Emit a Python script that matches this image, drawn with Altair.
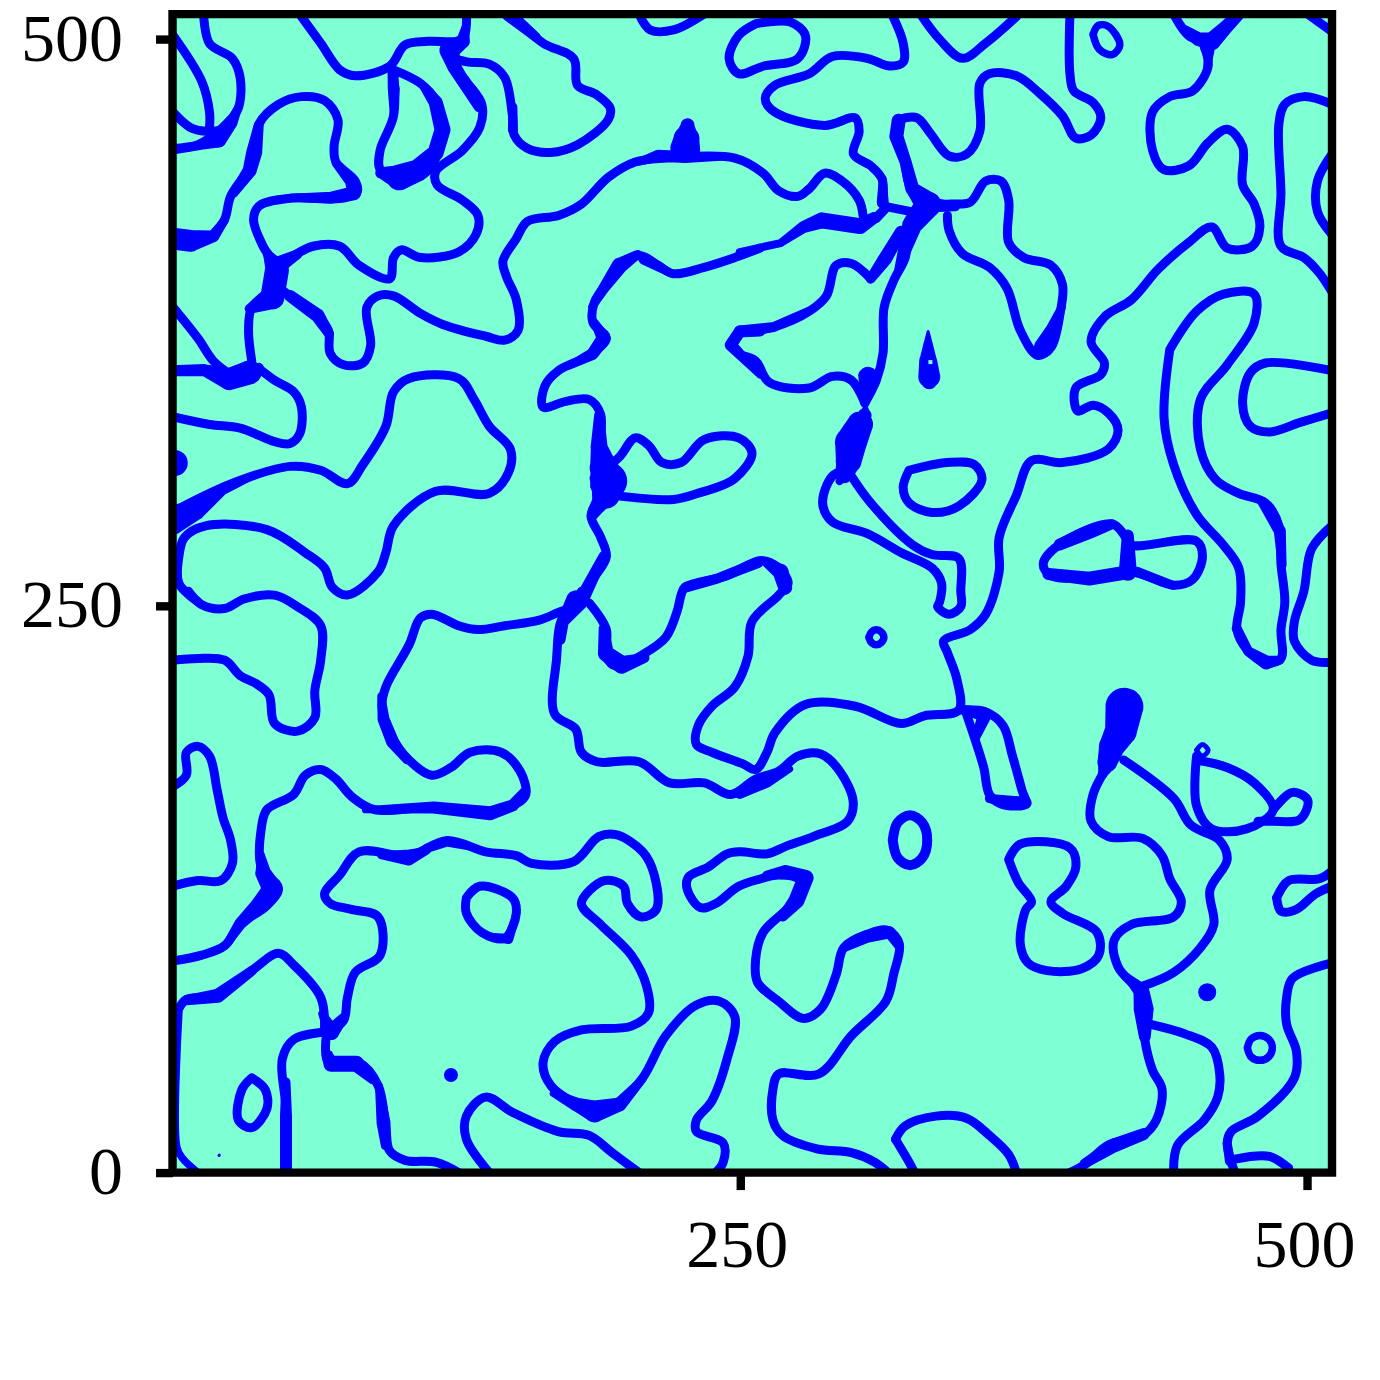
import altair as alt
import pandas as pd

# Contours, in data units (x, y)
a01 = [(13.7,511),(16.3,498),(26.4,491.4),(29.8,483),(29,469.5),(23.9,462.7),(18,457.6),(11.2,453.4),(0,451.7)]
a02 = [(0,502),(12.9,481.3),(16.3,467.8),(16.3,461)]
a03 = [(0,468),(7.8,461),(14.6,459.3),(23,460)]
a04 = [(56,511),(65.3,498.2),(73.7,486.4),(80.5,483.8),(95.7,488),(102.5,497.4),(112.6,499),(127.8,500),(129.5,511)]
a05 = [(127.8,500),(122.7,491.4),(129.5,481.3),(136.3,471.2),(135.4,461),(127.8,450.9),(116,441.6),(116.6,435.7),(127.8,428.9),(134.6,422.2),(133.7,413.7),(126.1,406.1),(109.2,403.6),(100.8,407),(97.4,403.6),(95.7,394.3),(82.2,400.2),(73.7,408.6),(61.9,408.6),(51.8,403.6),(45,400.2)]
a06 = [(97.4,486.4),(97.4,466.1),(91.5,451),(91.5,442.4),(99.1,437.4),(106.7,438.2),(114.3,444.1),(118.5,459.3),(116,472.9),(109.2,480.5),(97.4,486.4)]
a08 = [(125,491),(130.3,489.8),(139.6,488.9),(146.4,483),(149.8,466.1),(150.6,457.6),(156.5,451.7),(166.7,450),(178.5,453.4),(192,464.4),(192.9,469.5),(187,475.4),(178.5,479.6),(176.8,491.4),(163.3,498.2),(148.9,511)]
a09 = [(18,413.7),(23,420.5),(25.6,430.6),(33.2,442.4),(36.6,452.6),(38.2,462.7),(46.7,471.2),(56.8,474.6),(67,472.9),(72.9,464.4),(71.2,452.6),(72,445.8),(80.5,437.4),(81.3,432.3),(75.4,429.8),(51.8,429.8),(38.2,426.4),(35.7,420.5),(39.9,408.6),(45,400.2),(45,391.7),(34.9,381.6),(33.5,371.5),(34.9,358)]
a12 = [(0,353.7),(16.3,353.7),(25.6,349.5),(34.9,353.7),(38.2,354.6)]
a13 = [(0,382),(11.2,368),(18,358),(25.6,352)]
a14 = [(38.2,354.6),(45,349.5),(53.4,344.4),(56.8,337.7),(56,325.8),(51.8,321.6),(45,322.4),(29.8,328.4),(16.3,330),(0,333.4)]
a15 = [(45,391.7),(51.8,386.7),(63.6,378.2),(68.7,371.5),(69.5,361.3),(75.4,356.3),(83.9,357.1),(87.3,364.7),(85.6,381.6),(90.6,386.7),(97.4,386.7),(109.2,379),(119.4,374),(138,368.9),(146.4,367.2),(152.3,371.5),(151.5,385),(147.2,395.1),(145.6,401.9),(151.5,412),(156.5,419.6),(170.1,422.2),(180.2,427.2),(192,439),(203.9,445.8),(217.4,447.5),(247.8,447.5),(260.3,440.8),(267.1,433.1),(275.6,430.6),(280.6,434),(287.4,440.8),(295,437.4),(302.6,428.9),(304.3,422.2)]
a18 = [(259,407.8),(247.8,403.6),(234.3,399.3),(220.8,396.5),(214,400.2),(206.4,404.4),(198.8,401.9),(193.7,395.1),(186,384.1),(185.3,374.8),(191.2,368.1),(183.6,360.5),(170,353.7),(164.1,347),(163.3,337.7),(173.4,340.2),(183.6,341),(188.7,334.3),(187.8,317.4),(187,297.1),(184.4,289.5),(188.7,280.2),(191.2,271.7),(185.3,261.6),(180.2,251.8)]
a21 = [(190,310),(197,315.7),(203.9,324.1),(209.8,320.8),(215.7,313.2),(224.1,313.2),(234.3,323.3),(249.5,324.1),(255.4,317.4),(247.8,306.2),(230.9,299.4),(220.8,296.9),(195.4,298.6)]
a22 = [(4.4,293.7),(28.1,304.7),(51.8,311.5),(65.3,309.8),(77.1,303.9),(83.9,312.3),(94,329.2),(97.4,344.4),(104.2,350.3),(126.1,350.3),(132.9,341),(139.6,329.2),(148.9,319.1),(148.1,308.9),(139.6,299.6),(116,300.5),(97.4,285.3),(94,273.4),(90.6,265),(77.1,254.8),(70.4,258.2),(67,266.7),(58.5,273.4),(41.6,283.6),(14.6,285.3),(5.3,280.2),(2.8,271.7),(2.8,260),(11.2,251.8)]
a26 = [(205.6,511),(210.6,504),(220.8,504),(234.3,511)]
a27 = [(257,506.7),(272.2,507.5),(278.9,501.6),(275.6,491.4),(260.3,488),(249.5,484.7),(245.3,491.4),(249.5,501.6),(257,506.7)]
a28 = [(7,256.4),(12.9,250.5),(23,248.8),(31.5,253),(45,254.7),(55.1,249.6),(65.3,241.2),(65.3,226),(62.7,212.5),(62.7,200.6),(55.1,194.7),(45,198.1),(42.5,210.8),(36.6,215.8),(29.8,219.2),(23,226),(11.2,226.8),(0,226)]
a29 = [(180.2,256.4),(178.5,250.5),(170.1,247.1),(161.6,243.7),(146.4,241.2),(134.6,239.5),(126.1,241.2),(114.3,246.3),(109.2,244.6),(104.2,232.7),(94,214.2),(92.3,205.7),(95.7,193.9),(104.2,182),(114.3,175.3),(122.7,178.7),(131.2,185.4),(144.7,185.4),(153.2,177),(155.7,166.8),(151.5,162.6),(138,159.2),(112.6,160.9),(89,160.1),(78.8,166),(72,173.6),(65.3,177.8),(58.5,175.3),(53.4,166.8),(41.6,160.1),(39.1,151.6),(39.1,134.7),(46.7,125.4),(41.6,117.8),(29.8,109.4),(23,100.1),(12.9,95.9),(0,93.3)]
a31 = [(178.5,250.5),(171.8,244.6),(169.2,226),(168.4,202.3),(177.7,195.6),(180.2,185.4),(187,181.2),(205.6,181.2),(219.1,171.9),(234.3,171.9),(246.1,166.8),(257,173.6),(267.1,177),(275.6,183.7),(285.7,184.6),(294.1,177),(300,163.4),(297.5,155),(282.3,148.2),(270.5,144),(262,140.6),(250.2,141.5),(244.4,140.6),(236,134.7),(227.5,130.5),(226.7,125.4),(232.6,116.9),(239.4,118.7),(249.5,126.3),(259.3,129.6),(267.1,131.3),(278,128.8),(272.2,117.8),(260.3,106),(257,94.2),(257.8,84),(267.1,75.6),(278.1,68),(285.7,72.2),(292.5,87.4),(295.8,99.2),(306,105.1),(315.3,106.8),(320.3,100.9),(317.8,87.4),(314.4,75.6),(299.2,60.4),(284.8,43.5),(267.1,43.5),(264.6,36.7),(264.6,23.2),(268.8,16.4),(284,10.5),(299.2,8.8),(309.4,4.6),(315.3,0)]
a32 = [(183.6,251.3),(191.2,239.5),(191.2,227.7),(195.4,223.4),(207.2,228.5),(217.4,236.1),(222.5,248),(224.1,254.7),(225.8,258.2),(244.4,263.3),(259.3,270),(267.1,266.7),(271.3,260),(267.1,254.7),(255.3,242.9),(253.6,227.7),(247.8,214.2),(237.7,205.7),(231.7,197.2),(230.9,188.8),(237.7,185.4),(251.2,180.4),(257,177.8),(262,185.4),(265.4,193.9),(278.9,206.5),(300.9,205.7),(321.2,198.1),(331.3,201.5),(346.5,204),(345.7,217.5),(341.5,229.4),(339.8,234.4),(351.6,239.5),(358.4,246.3),(364.3,265),(364.3,280.2),(371.9,298.8),(378.6,314),(392.2,313.2),(412.4,319.1),(416.7,327.5),(412.4,335.1),(405.7,338.5),(398.9,336),(398.1,346.1),(409.1,352),(410.7,357.1),(404.8,366.4),(410.7,377.4),(422.6,385),(434.4,398.5),(447.9,410.3),(458,417.1),(464.8,407.8),(475.8,408.6),(479.2,417.1),(476.7,427.2),(471.6,435.7),(471.6,452.6),(464.8,460.2),(456.4,454.3),(447.9,444.1),(436.9,442.4),(431.9,450.9),(431.9,467.8),(439.5,474.6),(449.6,477.1),(456.4,488),(454.7,496.5)]
a34 = [(441.2,511),(448.9,500.7),(458,499.9),(468.2,511)]
a35 = [(317,511),(322,498.2),(322,489.8),(316.1,488.1),(306,491.5),(290.8,492.3),(280.6,484.7),(265.4,479.6),(261.2,473.7),(265.4,467.8),(287.4,461.9),(300.9,465.2),(302.6,459.3),(300.1,449.2),(307.7,444.1),(312.7,438.2),(312.7,427.2)]
a39 = [(322.9,445.8),(325.4,434),(333,427.2),(324.6,415.4),(322.9,403.6),(317.8,393.4),(313.6,381.6),(313.1,361.3),(310.2,349.5),(305.1,339.4)]
a42 = [(319.5,464.4),(328,465.3),(333.9,458.5),(342.3,448.4),(349.9,449.2),(355.8,459.3),(355.8,480.5),(360,484.7),(371.9,483.8),(382,476.2),(392.2,466.1),(398.1,456.3),(404.8,457.6),(409.1,465.3),(405.7,472),(397.2,477.1),(395.5,484.7),(395.5,511)]
a43 = [(329.6,511),(338,499.9),(348.2,491.5),(358.4,498.2),(372,510)]
a44 = [(405.7,502),(408,506),(412.5,505.5),(417.5,497.4),(414.1,493.1),(408.4,495.5),(405.7,502)]
a45 = [(333,427.2),(343.2,427.2),(351.6,428.1),(358.4,437.4),(365.1,437.4),(368.5,428.9),(368.5,410.3),(375.2,403.6),(387.1,400.2),(392.2,391.7),(391.3,379.9),(387.1,363.9),(381.2,360.5),(373.6,371.5),(367.7,390.1),(360,399.3),(348.2,405.3),(342.3,415.4),(341.5,422.2)]
a47 = [(250.2,370.6),(265.4,373.1),(280.6,379.9),(288.2,386.7),(292.5,400.2),(299.2,401),(307.7,394.3)]
a49 = [(250.2,360.5),(257,358),(262.9,348.6),(280.6,346.1),(290.8,351.2),(299.2,349.5),(305.1,339.4)]
a55 = [(296.7,310),(290.8,307.2),(286.5,295.4),(290.8,287),(306,281.9),(321.2,273.4),(334.7,266.7),(338.9,260),(338.1,251.8),(337.2,249.6),(342.3,246.3),(347.4,249.6),(347.4,256.4),(346.5,270.9),(334.7,272.6),(326.3,276.8),(307.7,295.4),(299.2,307.2)]
a56 = [(324.6,309.8),(341.5,313.2),(353.3,312.3),(356.7,305.6),(346.5,294),(334.7,291.2),(324.6,295.4),(322,302.2),(324.6,309.8)]
a57 = [(439.5,363),(437,332.6),(441.2,312.3),(451.3,290.3),(463.1,276.8),(469.9,266.7),(470.7,251.8),(469.1,239.5),(473.3,231),(481.7,225.1),(488.5,226.8),(488.5,239.5),(490.2,251.8),(488.5,268.4),(487.6,285.3),(481.7,295.4),(469.9,299.6),(459.8,305.6),(453,319.1),(453,341),(464.8,356.3),(476.7,374.8),(476.7,387.5),(463.1,387.5),(451.3,379.9),(439.5,363)]
a58 = [(511,353.7),(481.7,357.1),(475,352.8),(471.6,339.3),(475,329.2),(483.4,326.7),(497,330.9),(511,335.1)]
a59 = [(511,471.2),(498.6,474.6),(490.2,471.2),(487.6,462.7),(488.5,432.3),(488.5,408.6),(498.6,403.6),(505.4,396.8),(511,388.4)]
a60 = [(511,449.2),(504.6,437.4),(504.6,423.8),(511,413.7)]
a61 = [(511,285.3),(502,275.1),(498.6,256.4),(494.4,242.9),(494.4,234.4),(502,226),(511,225.1)]
a62 = [(420,280.2),(422.6,276.8),(451.3,278.5),(453.9,271.7),(449.6,261.6),(441.2,259.1),(422.6,265),(404,262.5),(387.1,263.3),(383.7,268.4),(390.5,276.8),(414.1,286.1),(420,280.2)]
a66 = [(306.9,236.1),(308,238.4),(310.2,239.4),(312.4,238.4),(313.5,236.1),(312.4,233.8),(310.2,232.8),(308,233.8),(306.9,236.1)]
a67 = [(346.5,204),(358.4,203.2),(366,197.2),(370.2,183.7),(374.4,168.5),(376.1,162.6),(365.1,162.6),(360,166.8),(357.5,178.7),(353.3,192.2),(349.9,202.3)]
a70 = [(410.7,177),(405.7,166.8),(404.8,155),(412.4,148.2),(427.6,147.4),(436.1,139.8),(439.5,129.6),(444.6,119.5),(441.2,112.8),(422.6,109.4),(415,102.6),(416.7,90.8),(427.6,77.3),(428.5,58.7),(431.9,45.1),(436.1,36.7),(433.6,23.2),(427.6,16.4),(412.4,12.2),(402.3,3.7),(395.5,0)]
a72 = [(419.2,182),(441.2,165.1),(448.8,153.3),(461.5,146.5),(464.8,138.1),(457.2,124.6),(458.9,109.4),(453,99.2),(441.2,88.3),(427.6,82.3)]
a74 = [(431,65.4),(446.2,61.2),(458,55.3),(461.5,43.5),(460.6,33.3),(454.7,23.2),(442.9,12),(441.2,0)]
a75 = [(451.3,183.7),(451.3,161.8),(458,151.6),(473.3,151.6),(485.1,160.1),(476.7,171.9),(464.8,178.7),(451.3,182)]
a76 = [(451.3,186.3),(453.9,188.8),(456.4,186.3),(453.9,183.7),(451.3,186.3)]
a77 = [(485.1,160.1),(493.6,167.7),(500.3,164.3),(496.9,155.8),(485.1,155),(478.4,155)]
a78 = [(317.4,146.6),(319.6,154.4),(325,157.6),(330.4,154.4),(332.6,146.6),(330.4,138.8),(325,135.6),(319.6,138.8),(317.4,146.6)]
a79 = [(368.5,138.1),(373.6,144.9),(395.5,143.2),(398.1,134.7),(393.9,126.3),(387.1,119.5),(392.2,114.4),(407.4,106),(408.2,95.9),(400.6,89.9),(385.4,89.1),(377,92.5),(373.6,101),(376.1,116.1),(378.6,119.5),(372.7,128),(368.5,138.1)]
a80 = [(456,79.5),(456,79.6)]
a81 = [(473.7,55),(475.3,58.9),(479.2,60.5),(483.1,58.9),(484.7,55),(483.1,51.1),(479.2,49.5),(475.3,51.1),(473.7,55)]
a82 = [(511,92.5),(493.6,85.7),(491,77.3),(491,65.4),(495.3,53.6),(494.4,41.8),(478.4,24.9),(466.5,18.1),(464.8,13),(468.2,0)]
a83 = [(468.2,5.9),(483.4,7.1),(491.9,2)]
a84 = [(486.6,121.2),(491.9,128.8),(505.4,129.6),(511,133)]
a85 = [(486.6,121.2),(488.5,115.3),(495.3,116.1),(503.7,122.9),(511,126.3)]
a86 = [(510.5,162.6),(510.5,125)]
a87 = [(510.5,40),(510.5,20.6)]
a88 = [(318.6,14.7),(322.9,20.6),(336.4,24.9),(349.9,24),(360,16.4),(368.5,8),(371.9,0)]
a89 = [(318.6,14.7),(324.6,4.6),(327,0)]
a90 = [(0,170.2),(6.1,175.3),(6.1,185.4),(11.2,188),(16.3,183.7),(19.7,168.5),(22.2,156.7),(25.6,146.5),(26.4,136.4),(21.3,128.8),(11.2,128.8),(0,126.3)]
a91 = [(68.7,62),(75.4,67.1),(77.1,77.3),(80.5,88.3),(91.5,95.9),(90.6,112.8),(78.8,116.1),(69.5,118.7),(67,122.9),(73.7,131.3),(82.2,141.5),(104.2,139.8),(121,146.5),(138,141.5),(151.5,139.8),(158.2,136.4),(176.8,137.2),(187.8,148.2),(195.4,149.1),(207.2,141.5),(212.3,131.3),(213.2,116.1),(206.4,112.8),(200.5,118.7),(198.8,126.3),(190.3,128.8),(180.2,118.7),(188.7,109.4),(202.2,95.9),(208.9,82.3),(209.8,70.5),(202.2,64.6),(180.2,62.9),(168.4,57.8),(163.3,48.5),(166.7,38.4),(178.5,30),(185.3,27.4),(197.1,31.6),(207.2,41.8),(217.4,60.4),(230.9,73.9),(241,75.6),(247.8,68.8),(244.4,50.2),(237.7,31.6),(230.9,23.2),(230.9,18.1),(242.7,13),(242.7,4.6),(239.4,0)]
a92 = [(1.9,70.5),(6.1,76.4),(19.7,78.1),(34.9,89.1),(46.7,96.7),(53.4,91.6),(65.3,77.3),(67,63.7)]
a93 = [(2.8,70.5),(1.9,11.3),(4.4,6.3),(11.2,0)]
a94 = [(67,62),(53.4,58.7),(48.4,50.2),(50,28.2),(50,0)]
a95 = [(67.8,60.4),(68.7,48.5),(82.2,48.5),(90.6,38.4),(94,19.8),(95.7,9.6),(102.5,5.4),(116,4.6),(126.1,0)]
a97 = [(34.9,41.8),(40.8,36.7),(41.6,28.2),(34.9,19.8),(29,23.2),(30.6,36.7),(34.9,41.8)]
a98 = [(122.7,43),(122.7,43.1)]
a99 = [(20.5,7.6),(20.6,7.7)]
b01 = [(129.5,121.2),(135.4,126.3),(149.8,121.2),(151.5,114.4),(146.4,103.4),(136.3,105.9),(129.5,114.4),(129.5,121.2)]
b02 = [(139.6,0),(129.5,14.7),(129.5,24.9),(138,33.3),(149.8,26.6),(170,18.1),(183.6,16.4),(193.7,8.8),(205.6,0)]
b03 = [(500.3,511),(511,503.3)]

line_groups = [
    (9, [a01,a02,a03,a04,a05,a06,a08,a09,a12,a13,a14,a15,a18,a21,a22,a26,a27,a28,a29,a31,a32,a34,a35,a39,a42,a43,a45,a47,a49,a55,a56,a57,a58,a59,a60,a61,a62,a67,a70,a72,a74,a75,a77,a79,a82,a83,a84,a85,a88,a89,a90,a91,a92,a94,a95,a97,b01,b02,b03]),
    (10, [a78]),
    (7.5, [a44,a66,a81,a93]),
    (5, [a76,a86,a87]),
    (3, [a99]),
    (14, [a98]),
    (18, [a80]),
]

# Thickened stretches of the contours: (x, y, width of the stroke)
t01 = [(0,412,22),(8,411,22),(18,413,12),(23,420,8)]
t02 = [(0,451,9),(12,453,9),(20,456,18),(26,463,12),(29,470,8)]
t03 = [(38,462,10),(36,450,16),(34,442,14),(27,432,9)]
t04 = [(72,445,8),(78,437,9),(80,432,14),(70,430,12),(52,430,8)]
t05 = [(42,405,10),(46,398,24),(44,386,24),(34,381,10)]
t06 = [(51.8,386.7,12),(64,378,14),(69,370,10)]
t07 = [(46,400,18),(55,405,10)]
t08 = [(0,353.7,11),(14,354,12),(25,350,22),(34,353,24),(38,355,10)]
t09 = [(110,480,8),(116,472,14),(119,460,16),(116,450,16),(108,442,22),(100,439,26),(92,441,12)]
t10 = [(96.5,487,8),(97.5,478,12),(97.5,467,8)]
t11 = [(129,505,8),(128,499,14),(122,495,20),(124,488,14),(135,470,10)]
t12 = [(148,511,14),(160,501,10)]
t13 = [(150,470,9),(150,460,10)]
t14 = [(227,462,14),(226.5,456,26),(226,452,30)]
t15 = [(206,446,8),(214,448.5,12),(226,448,12),(240,448,8)]
t16 = [(188,334,10),(188,320,17),(190,311,28),(192,305,38),(191,299,28),(188,294,14),(186,290,8)]
t17 = [(186,375,8),(190,368,14),(185,361,12),(175,356,8)]
t18 = [(205,405,9),(197,400,16),(190,390,11),(185,382,8)]
t19 = [(208,403,12),(220,396.5,8)]
t20 = [(190,272,10),(181,254,14)]
t21 = [(178,252,22),(172,243,12),(171,235,10)]
t22 = [(190,240,10),(191,229,16),(198,224,18),(208,227,10)]
t23 = [(39,140,8),(40,132,16),(44,125,20),(38,118,16),(30,110,12),(24,101,8)]
t24 = [(6,76,10),(20,78,14),(35,89,10)]
t25 = [(66,70,8),(70,62,16),(75,68,10)]
t26 = [(69,52,8),(70,48,16),(81,48,16),(88,41,9)]
t27 = [(91,38,8),(93,22,14),(94,12,10)]
t28 = [(50,40,9),(50,25,12),(50,0,12)]
t29 = [(168,35,8),(178,30,14),(186,27,22),(197,30,14),(207,41,8)]
t30 = [(92,140,8),(104,139,16),(112,142,8)]
t31 = [(85,160,7),(115,161,12),(140,158.5,14),(150,162,12),(155,168,9)]
t32 = [(92,210,8),(93,200,12),(97,190,13),(103,182,8)]
t33 = [(140,104,8),(148,103,10),(151,112,8)]
t34 = [(419.5,205.5,38),(418,195,32),(414,188,26),(412,181,20),(410,176,10)]
t35 = [(421,86,8),(427,80,16),(428,72,20),(428.5,60,12)]
t36 = [(349,204,10),(358,202,14),(354,192,9)]
t37 = [(360,165,9),(372,163,14),(376,163,12)]
t38 = [(386,264,12),(404,262,14),(422,265,14)]
t39 = [(391,277,12),(405,283,14),(414,286,10)]
t40 = [(421,281,12),(421,265,18)]
t41 = [(425,265,10),(441,259,9)]
t42 = [(428,17,12),(415,12,14),(402,4,10)]
t43 = [(296,99,8),(306,104,12),(316,106,12),(320,100,9)]
t44 = [(262,131,10),(270,133,12),(279,130,16),(275,120,16),(269,113,10)]
t45 = [(250,167,10),(262,172,10),(272,178,7)]
t46 = [(480,296,9),(488,283,12),(489,268,9)]
t47 = [(469,240,10),(474,230,10),(482,225,14),(488,226,9)]
t48 = [(466,5,10),(464.8,13,9)]
t49 = [(392,382,8),(388,372,14),(384,364,20),(382,361,10)]
t50 = [(446,504,10),(452,500,14),(458,499,18),(464,505,14),(470,511,12)]
t51 = [(457,495,10),(456,488,8)]
t52 = [(250,406,8),(268,410,8),(278,417,12),(286,420,16),(303,417.5,16),(309,421,12)]
t53 = [(320,464,14),(319,457,14),(323,446,12),(326,434,14),(333,427,26),(326,418,20),(323,408,14),(320,398,9)]
t54 = [(333,427,16),(345,426,9)]
t55 = [(313,438,8),(313,428,12)]
t56 = [(307.7,394.3,10),(314,403,14),(321,415,12)]
t57 = [(259,371,10),(250,371,12),(246,365,12),(252,359,10),(259,352,8)]
t58 = [(250,371,12),(265,373,10),(280,380,8)]
t59 = [(305.5,338,4),(305,334,14),(303,330,26),(299,322,32),(298,314,26),(296,308,18),(294,305,8)]
t60 = [(305,339,3),(305.5,345,12),(306.5,351,20)]
t61 = [(333,371,3),(333,365,10),(333,358,18),(333.5,351,22),(333.5,349,16)]
t62 = [(0,313,26),(1,313,26)]
t63 = [(0,288,30),(10,292,20),(22,301,10),(35,307,7)]
t64 = [(262,269,10),(268,265,16),(270,258,14)]
t65 = [(226,258,10),(240,262,10),(258,269,11)]
t66 = [(310,421,10),(315,426,9),(325,424,9)]
t68 = [(112,143,9),(121,146,10),(130,144,8)]

trails = [t01,t02,t03,t04,t05,t06,t07,t08,t09,t10,t11,t12,t13,t14,t15,t16,t17,t18,t19,t20,
          t21,t22,t23,t24,t25,t26,t27,t28,t29,t30,t31,t32,t33,t34,t35,t36,t37,t38,t39,t40,
          t41,t42,t43,t44,t45,t46,t47,t48,t49,t50,t51,t52,t53,t54,t55,t56,t57,t58,t59,t60,
          t61,t62,t63,t64,t65,t66,t68]

# Tiny hole in the small drop
hole_x = [334]
hole_y = [357.5]

rows = []
lid = 0
for w, group in line_groups:
    for pts in group:
        lid += 1
        for k, (x, y) in enumerate(pts):
            rows.append({"x": x, "y": y, "id": lid, "k": k, "w": w})
df = pd.DataFrame(rows)

rows2 = []
for i, pts in enumerate(trails):
    for k, (x, y, w) in enumerate(pts):
        rows2.append({"x": x, "y": y, "id": i, "k": k, "w": w})
df2 = pd.DataFrame(rows2)

AXIS_MAX = 511
tick_x = [250, 500]
tick_y = [0, 250, 500]
FONT = "Liberation Serif"

x_axis = alt.Axis(values=tick_x, title=None, grid=False, domain=False, tickSize=17, tickWidth=8.4,
                  tickColor="black", labelFont=FONT, labelFontSize=68, labelColor="black",
                  labelPadding=23, labelOffset=-3, format="d")
y_axis = alt.Axis(values=tick_y, title=None, grid=False, domain=False, tickSize=17, tickWidth=8.4,
                  tickColor="black", labelFont=FONT, labelFontSize=68, labelColor="black",
                  labelPadding=33, labelOffset=1, format="d")
xs = alt.Scale(domain=[0, AXIS_MAX], nice=False, zero=False)
ys = alt.Scale(domain=[0, AXIS_MAX], nice=False, zero=False)

lines = alt.Chart(df).mark_line(clip=True, color="#0000ff", interpolate="catmull-rom",
                                strokeCap="round", strokeJoin="round").encode(
    x=alt.X("x:Q", scale=xs, axis=x_axis),
    y=alt.Y("y:Q", scale=ys, axis=y_axis),
    detail="id:N",
    order="k:Q",
    strokeWidth=alt.StrokeWidth("w:Q", scale=None),
)

thick = alt.Chart(df2).mark_trail(clip=True, color="#0000ff").encode(
    x=alt.X("x:Q", scale=xs, axis=x_axis),
    y=alt.Y("y:Q", scale=ys, axis=y_axis),
    detail="id:N",
    order="k:Q",
    size=alt.Size("w:Q", scale=None),
)

hole = alt.Chart(pd.DataFrame({"x": hole_x, "y": hole_y})).mark_square(
    size=16, color="#7FFFD4", opacity=1
).encode(
    x=alt.X("x:Q", scale=xs, axis=x_axis),
    y=alt.Y("y:Q", scale=ys, axis=y_axis),
)

frame = alt.Chart(pd.DataFrame({"a": [0], "b": [AXIS_MAX]})).mark_rect(
    fillOpacity=0, stroke="black", strokeWidth=8.4
).encode(
    x=alt.X("a:Q", scale=xs, axis=x_axis),
    x2="b:Q",
    y=alt.Y("a:Q", scale=ys, axis=y_axis),
    y2="b:Q",
)

chart = (lines + thick + hole + frame).properties(
    width=1160, height=1159,
    padding={"left": 164.6, "top": 5.8, "right": 40, "bottom": 190},
    autosize=alt.AutoSizeParams(type="none"),
).configure_view(fill="#7FFFD4", strokeWidth=0)

chart.save("out.html", embed_options={"renderer": "svg", "actions": False})
